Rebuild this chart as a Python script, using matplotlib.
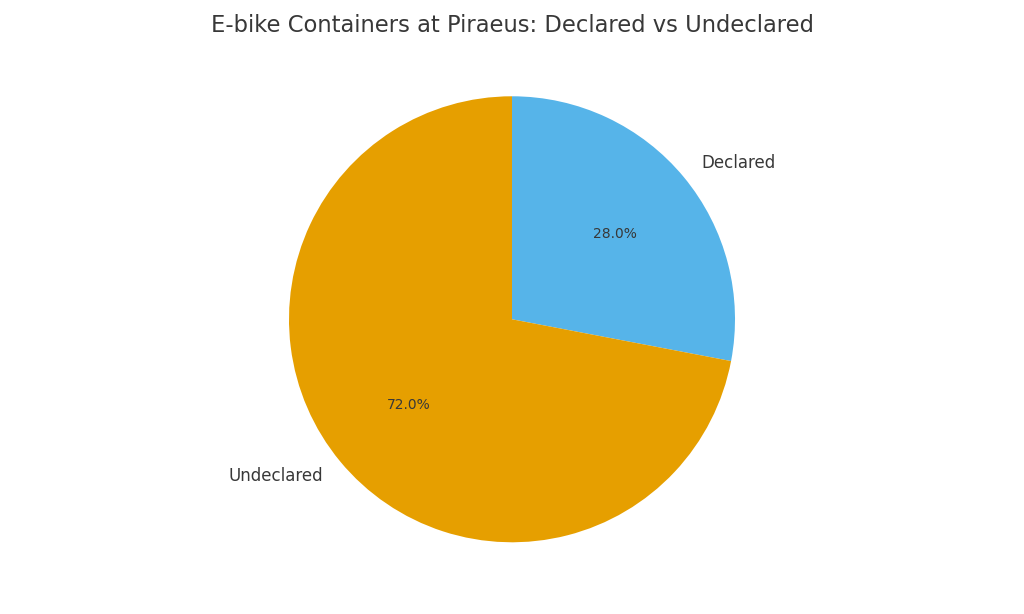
import matplotlib
matplotlib.use("Agg")
import matplotlib.pyplot as plt

# data
labels = ["Declared", "Undeclared"]
shares = [28.0, 72.0]
colors = ["#56B4E9", "#E69F00"]
text_color = "#383838"

fig = plt.figure(figsize=(10.24, 6.14), dpi=100)
ax = fig.add_axes([0.0, 0.026, 1.0, 0.908])

wedges, texts, autotexts = ax.pie(
    shares, labels=labels, colors=colors, autopct="%1.1f%%",
    startangle=90, counterclock=False,
    textprops={"color": text_color, "fontsize": 12},
)
for t in autotexts:
    t.set_fontsize(10)
ax.set_aspect("equal")

fig.text(0.5, 1 - 25 / 614, "E-bike Containers at Piraeus: Declared vs Undeclared",
         ha="center", va="center", fontsize=16.3, color=text_color)

fig.savefig("out.png", dpi=100)
